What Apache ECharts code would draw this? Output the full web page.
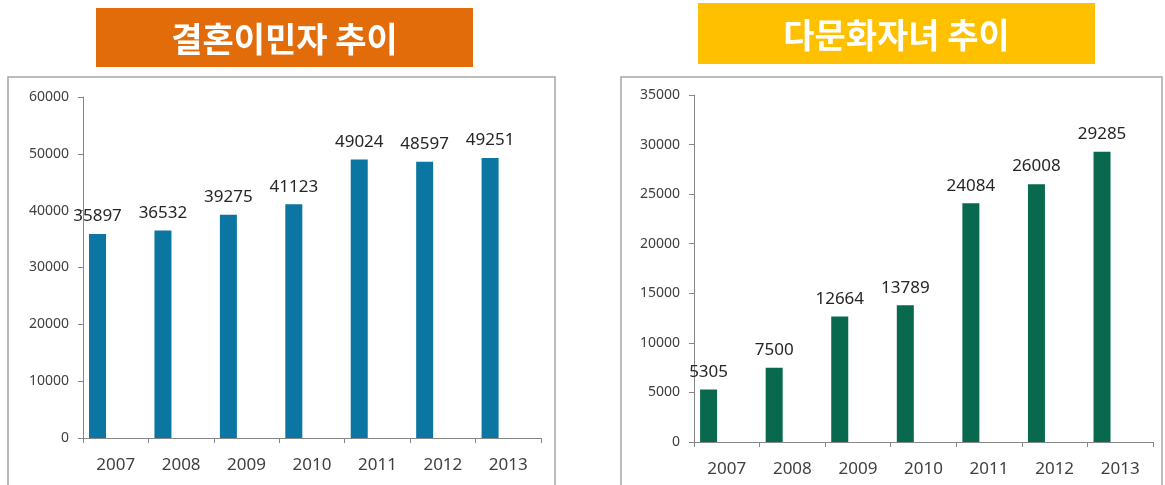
<!DOCTYPE html>
<html>
<head>
<meta charset="utf-8">
<script src="https://cdn.jsdelivr.net/npm/echarts@6/dist/echarts.min.js"></script>
<style>
html,body{margin:0;padding:0;background:#fff;}
#c{width:1165px;height:485px;}
</style>
</head>
<body>
<div id="c"></div>
<script>
const years = ['2007','2008','2009','2010','2011','2012','2013'];
const marriageMigrants = [35897, 36532, 39275, 41123, 49024, 48597, 49251];
const multiculturalChildren = [5305, 7500, 12664, 13789, 24084, 26008, 29285];
const titleLeft = '결혼이민자 추이';
const titleRight = '다문화자녀 추이';
const emptySlot = years.map(() => null);

const chart = echarts.init(document.getElementById('c'), null, {renderer: 'canvas'});
const axisColor = '#868686';
const txtColor = '#404040';
const numFont = 'Noto Sans';

function xAxis(gi) {
  return {
    type: 'category', gridIndex: gi, data: years,
    axisLine: {lineStyle: {color: axisColor, width: 1}},
    axisTick: {show: true, length: 5, alignWithLabel: false, lineStyle: {color: axisColor}},
    axisLabel: {fontSize: 17, color: txtColor, fontFamily: numFont, margin: 19}
  };
}
function yAxis(gi, max, interval) {
  return {
    type: 'value', gridIndex: gi, min: 0, max: max, interval: interval,
    axisLine: {show: true, lineStyle: {color: axisColor, width: 1}},
    axisTick: {show: true, length: 5, lineStyle: {color: axisColor}},
    splitLine: {show: false},
    axisLabel: {fontSize: 14, color: txtColor, fontFamily: numFont, margin: 14,
      formatter: v => String(v)}
  };
}
function barSeries(gi, data, color) {
  return [{
    type: 'bar', xAxisIndex: gi, yAxisIndex: gi, data: data,
    barWidth: 17, barGap: '114%',
    itemStyle: {color: color},
    label: {show: true, position: 'top', distance: 9, fontSize: 17, color: '#262626', fontFamily: numFont}
  }, {
    type: 'bar', xAxisIndex: gi, yAxisIndex: gi, data: emptySlot,
    barWidth: 17, barGap: '114%', itemStyle: {color: 'transparent'}, silent: true
  }];
}

chart.setOption({
  animation: false,
  backgroundColor: '#ffffff',
  graphic: [
    {type: 'rect', z: -10, shape: {x: 8, y: 77, width: 547, height: 430},
     style: {fill: '#fff', stroke: '#a6a6a6', lineWidth: 1.5}},
    {type: 'rect', z: -10, shape: {x: 621, y: 77, width: 541, height: 430},
     style: {fill: '#fff', stroke: '#a6a6a6', lineWidth: 1.5}},
    {type: 'rect', shape: {x: 96, y: 8, width: 377, height: 59}, style: {fill: '#E36C0A'}},
    {type: 'text', x: 284.5, y: 39, style: {text: titleLeft, fill: '#fff', fontSize: 34, fontWeight: 'bold',
      fontFamily: 'Noto Sans CJK KR', align: 'center', verticalAlign: 'middle'}},
    {type: 'rect', shape: {x: 698, y: 3, width: 397, height: 61}, style: {fill: '#FFC000'}},
    {type: 'text', x: 896.5, y: 35, style: {text: titleRight, fill: '#fff', fontSize: 34, fontWeight: 'bold',
      fontFamily: 'Noto Sans CJK KR', align: 'center', verticalAlign: 'middle'}}
  ],
  grid: [
    {left: 83, right: 1165 - 541, top: 97, bottom: 485 - 438},
    {left: 694, right: 1165 - 1153, top: 95, bottom: 485 - 442}
  ],
  xAxis: [xAxis(0), xAxis(1)],
  yAxis: [yAxis(0, 60000, 10000), yAxis(1, 35000, 5000)],
  series: [].concat(barSeries(0, marriageMigrants, '#0A76A1'), barSeries(1, multiculturalChildren, '#08694E'))
});
</script>
</body>
</html>
